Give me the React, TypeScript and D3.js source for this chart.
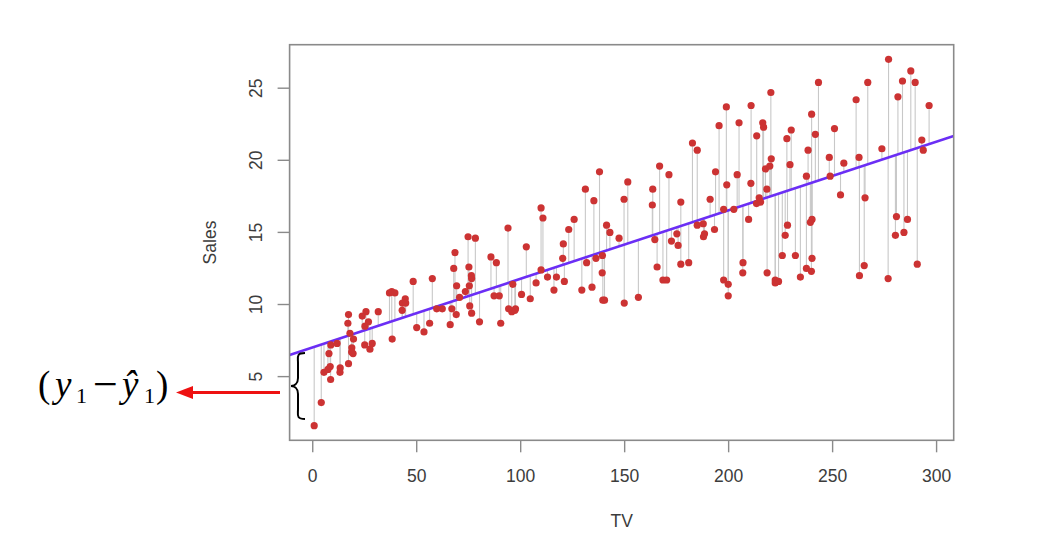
import React from "react";
import * as d3 from "d3";

const tv = [230.1, 44.5, 17.2, 151.5, 180.8, 8.7, 57.5, 120.2, 8.6, 199.8,
  66.1, 214.7, 23.8, 97.5, 204.1, 195.4, 67.8, 281.4, 69.2, 147.3,
  218.4, 237.4, 13.2, 228.3, 62.3, 262.9, 142.9, 240.1, 248.8, 70.6,
  292.9, 112.9, 97.2, 265.6, 95.7, 290.7, 266.9, 74.7, 43.1, 228,
  202.5, 177, 293.6, 206.9, 25.1, 175.1, 89.7, 239.9, 227.2, 66.9,
  199.8, 100.4, 216.4, 182.6, 262.7, 198.9, 7.3, 136.2, 210.8, 210.7,
  53.5, 261.3, 239.3, 102.7, 131.1, 69, 31.5, 139.3, 237.4, 216.8,
  199.1, 109.8, 26.8, 129.4, 213.4, 16.9, 27.5, 120.5, 5.4, 116,
  76.4, 239.8, 75.3, 68.4, 213.5, 193.2, 76.3, 110.7, 88.3, 109.8,
  134.3, 28.6, 217.7, 250.9, 107.4, 163.3, 197.6, 184.9, 289.7, 135.2,
  222.4, 296.4, 280.2, 187.9, 238.2, 137.9, 25, 90.4, 13.1, 255.4,
  225.8, 241.7, 175.7, 209.6, 78.2, 75.1, 139.2, 76.4, 125.7, 19.4,
  141.3, 18.8, 224, 123.1, 229.5, 87.2, 7.8, 80.2, 220.3, 59.6,
  0.7, 265.2, 8.4, 219.8, 36.9, 48.3, 25.6, 273.7, 43, 184.9,
  73.4, 193.7, 220.5, 104.6, 96.2, 140.3, 240.1, 243.2, 38, 44.7,
  280.7, 121, 197.6, 171.3, 187.8, 4.1, 93.9, 149.8, 11.7, 131.7,
  172.5, 85.7, 188.4, 163.5, 117.2, 234.5, 17.9, 206.8, 215.4, 284.3,
  50, 164.5, 19.6, 168.4, 222.4, 276.9, 248.4, 170.2, 276.7, 165.6,
  156.6, 218.5, 56.2, 287.6, 253.8, 205, 139.5, 191.1, 286, 18.7,
  39.5, 75.5, 17.2, 166.8, 149.7, 38.2, 94.2, 177, 283.6, 232.1];

const sales = [22.1, 10.4, 9.3, 18.5, 12.9, 7.2, 11.8, 13.2, 4.8, 10.6,
  8.6, 17.4, 9.2, 9.7, 19, 22.4, 12.5, 24.4, 11.3, 14.6,
  18, 12.5, 5.6, 15.5, 9.7, 12, 15, 15.9, 18.9, 10.5,
  21.4, 11.9, 9.6, 17.4, 9.5, 12.8, 25.4, 14.7, 10.1, 21.5,
  16.6, 17.1, 20.7, 12.9, 8.5, 14.9, 10.6, 23.2, 14.8, 9.7,
  11.4, 10.7, 22.6, 21.2, 20.2, 23.7, 5.5, 13.2, 23.8, 18.4,
  8.1, 24.2, 15.7, 14, 18, 9.3, 9.5, 13.4, 18.9, 22.3,
  18.3, 12.4, 8.8, 11, 17, 8.7, 6.9, 14.2, 5.3, 11,
  11.8, 12.3, 11.3, 13.6, 21.7, 15.2, 12, 16, 12.9, 16.7,
  11.2, 7.3, 19.4, 22.2, 11.5, 16.9, 11.7, 15.5, 25.4, 17.2,
  11.7, 23.8, 14.8, 14.7, 20.7, 19.2, 7.2, 8.7, 5.3, 19.8,
  13.4, 21.8, 14.1, 15.9, 14.6, 12.6, 12.2, 9.4, 15.9, 6.6,
  15.5, 7, 11.6, 15.2, 19.7, 10.6, 6.6, 8.8, 24.7, 9.7,
  1.6, 12.7, 5.7, 19.6, 10.8, 11.6, 9.5, 20.8, 9.6, 20.7,
  10.9, 19.2, 20.1, 10.4, 11.4, 10.3, 13.2, 25.4, 10.9, 10.1,
  16.1, 11.6, 16.6, 19, 15.6, 3.2, 15.3, 10.1, 7.3, 12.9,
  14.4, 13.3, 14.9, 18, 11.9, 11.9, 8, 12.2, 17.1, 15,
  8.4, 14.5, 7.6, 11.7, 11.5, 27, 20.2, 11.7, 11.8, 12.6,
  10.5, 12.2, 8.7, 26.2, 17.6, 22.6, 10.3, 17.3, 15.9, 6.7,
  10.8, 9.9, 5.9, 19.6, 17.3, 7.6, 9.7, 12.8, 25.5, 13.4];

const xTicks = [0, 50, 100, 150, 200, 250, 300];
const yTicks = [5, 10, 15, 20, 25];
const intercept = 7.0326;
const slope = 0.047537;

export default function App() {
  const W = 1038, H = 544;
  const left = 289.6, right = 953.7, top = 44.7, bottom = 440.3;
  const xr = d3.extent(tv) as [number, number];
  const yr = d3.extent(sales) as [number, number];
  const xpad = (xr[1] - xr[0]) * 0.04;
  const ypad = (yr[1] - yr[0]) * 0.04;
  const x = d3.scaleLinear().domain([xr[0] - xpad, xr[1] + xpad]).range([left, right]);
  const y = d3.scaleLinear().domain([yr[0] - ypad, yr[1] + ypad]).range([bottom, top]);
  const [dx0, dx1] = x.domain();
  const fit = (v: number) => intercept + slope * v;
  const axisCol = "#8a8a8a";
  const textCol = "#3c3c3c";
  const font = "Liberation Sans, Arial, sans-serif";
  const serif = "Liberation Serif, Times New Roman, serif";

  // brace geometry (annotation for first residual)
  const bx = 291, by0 = 353, by1 = 419, bym = 386, bw = 14;
  const brace = `M ${bx + bw} ${by0} C ${bx + 5} ${by0} ${bx + 7} ${by0 + 4} ${bx + 7} ${by0 + 10}
    L ${bx + 7} ${bym - 8} C ${bx + 7} ${bym - 2} ${bx + 3} ${bym} ${bx} ${bym}
    C ${bx + 3} ${bym} ${bx + 7} ${bym + 2} ${bx + 7} ${bym + 8}
    L ${bx + 7} ${by1 - 10} C ${bx + 7} ${by1 - 4} ${bx + 5} ${by1} ${bx + bw} ${by1}`;

  const base = 397;

  return (
    <svg width={W} height={H} style={{ position: "absolute", left: 0, top: 0, background: "#fff" }}>
      <rect width={W} height={H} fill="#fff" />
      <defs>
        <clipPath id="plotclip">
          <rect x={left} y={top} width={right - left} height={bottom - top} />
        </clipPath>
      </defs>
      {/* residual segments */}
      <g stroke="#c8c8c8" strokeWidth={1.1}>
        {tv.map((t, i) => (
          <line key={i} x1={x(t)} x2={x(t)} y1={y(sales[i])} y2={y(fit(t))} />
        ))}
      </g>
      {/* regression line */}
      <line clipPath="url(#plotclip)" x1={x(dx0)} x2={x(dx1)} y1={y(fit(dx0))} y2={y(fit(dx1))}
        stroke="#6b2ef5" strokeWidth={2.6} />
      {/* points */}
      <g fill="#cc3333">
        {tv.map((t, i) => (
          <circle key={i} cx={x(t)} cy={y(sales[i])} r={3.6} />
        ))}
      </g>
      {/* box */}
      <rect x={left} y={top} width={right - left} height={bottom - top} fill="none" stroke={axisCol} strokeWidth={1.6} />
      {/* ticks */}
      <g stroke={axisCol} strokeWidth={1.4}>
        {xTicks.map((t) => (
          <line key={t} x1={x(t)} x2={x(t)} y1={bottom} y2={bottom + 12} />
        ))}
        {yTicks.map((t) => (
          <line key={t} x1={left - 12} x2={left} y1={y(t)} y2={y(t)} />
        ))}
      </g>
      <g fill={textCol} fontFamily={font} fontSize={17.5} textAnchor="middle">
        {xTicks.map((t) => (
          <text key={t} x={x(t)} y={482}>{t}</text>
        ))}
        {yTicks.map((t) => (
          <text key={t} transform={`translate(262,${y(t)}) rotate(-90)`}>{t}</text>
        ))}
        <text x={(left + right) / 2} y={527}>TV</text>
        <text transform={`translate(216,${(top + bottom) / 2}) rotate(-90)`}>Sales</text>
      </g>
      {/* annotation brace */}
      <path d={brace} fill="none" stroke="#000" strokeWidth={2} />
      {/* red arrow */}
      <line x1={280} x2={188} y1={392.5} y2={392.5} stroke="#ee1111" strokeWidth={3} />
      <path d="M 176 392.5 L 193 386 L 193 399 Z" fill="#ee1111" />
      {/* formula */}
      <g fontFamily={serif} fill="#000">
        <text x={38} y={base} fontSize={37}>(</text>
        <text x={55} y={base} fontSize={37} fontStyle="italic">y</text>
        <text x={76} y={base + 6} fontSize={22}>1</text>
        <text x={93} y={base + 2} fontSize={44}>−</text>
        <text x={122} y={base} fontSize={37} fontStyle="italic">ŷ</text>
        <text x={144} y={base + 6} fontSize={22}>1</text>
        <text x={156} y={base} fontSize={37}>)</text>
      </g>
    </svg>
  );
}
